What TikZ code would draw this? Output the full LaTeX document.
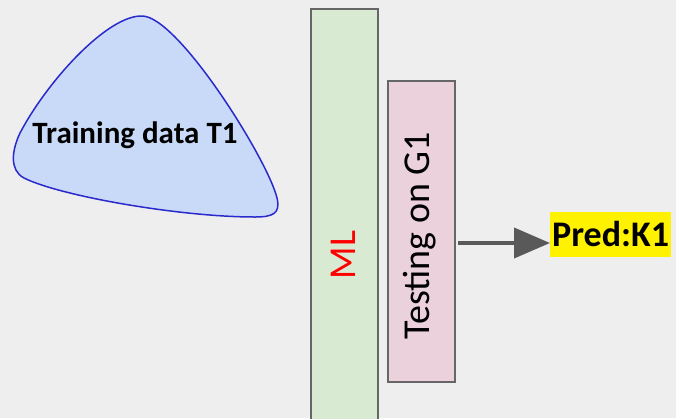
\documentclass[tikz,border=0pt]{standalone}
\usepackage{fontspec}
\setmainfont{Carlito}
\usetikzlibrary{arrows.meta}
\definecolor{bg}{HTML}{EEEEEE}
\definecolor{blobfill}{HTML}{C9DAF8}
\definecolor{blobline}{HTML}{2A2ACC}
\definecolor{mlfill}{HTML}{D9EAD3}
\definecolor{testfill}{HTML}{EAD1DC}
\definecolor{boxline}{HTML}{666666}
\definecolor{arrowgray}{HTML}{595959}
\tikzset{
  bar/.style={draw=boxline, line width=1.5pt, anchor=north west, inner sep=0pt},
  vlabel/.style={rotate=90, font=\fontsize{38}{44}\selectfont},
}
\begin{document}
\begin{tikzpicture}[x=1pt, y=-1pt]
  \path[fill=bg] (0,0) rectangle (676,418);
  \useasboundingbox (0,0) rectangle (676,418);

  % training data blob
  \draw[blobline, fill=blobfill, line width=1.5pt]
    (142,16) .. controls (178,16) and (268,160) .. (277,198)
    .. controls (281,214) and (272,217) .. (255,217)
    .. controls (180,217) and (60,196) .. (24,178)
    .. controls (9,170) and (12,150) .. (20,133)
    .. controls (48,80) and (108,15) .. (142,16) -- cycle;
  \node[font=\bfseries\fontsize{31}{36}\selectfont] (train) at (135,135) {Training data T1};

  % ML and testing bars
  \node[bar, fill=mlfill, minimum width=67pt, minimum height=420pt] (ml) at (310,8) {};
  \node[vlabel, text=red] (mltext) at (343,255) {ML};
  \node[bar, fill=testfill, minimum width=67pt, minimum height=301pt] (test) at (387,80) {};
  \node[vlabel] (testtext) at (420,236) {Testing on G1};

  % prediction
  \node[fill=yellow, inner xsep=2pt, inner ysep=0pt, minimum height=45pt,
        font=\bfseries\fontsize{36}{40}\selectfont, anchor=west] (pred) at (550,234) {Pred:K1};
  \coordinate (astart) at (458,243);
  \draw[arrowgray, line width=4pt, -{Triangle[length=36pt, width=30pt]}] (astart) -- (pred.west |- astart);
\end{tikzpicture}
\end{document}
